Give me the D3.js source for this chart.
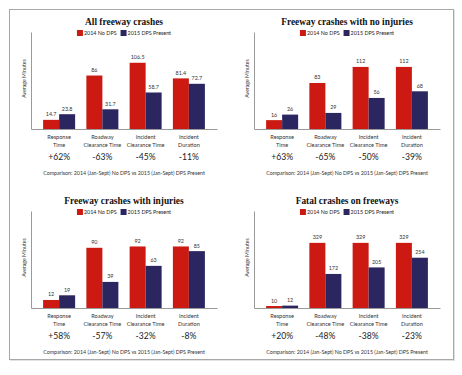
<!DOCTYPE html>
<html>
<head>
<meta charset="utf-8">
<script src="https://cdn.jsdelivr.net/npm/d3@7"></script>
<style>
  body { margin: 0; background: #fff; }
  svg { display: block; }
  .sans { font-family: Lato, "Open Sans", sans-serif; }
  .serif { font-family: "Liberation Serif", "DejaVu Serif", serif; }
</style>
</head>
<body>
<svg id="chart"></svg>
<script>
(() => {
  const width = 462, height = 375;

  const categories = ["Response Time", "Roadway Clearance Time", "Incident Clearance Time", "Incident Duration"];
  const categoryLines = [["Response", "Time"], ["Roadway", "Clearance Time"], ["Incident", "Clearance Time"], ["Incident", "Duration"]];
  const seriesNames = ["2014 No DPS", "2015 DPS Present"];
  const titles = ["All freeway crashes", "Freeway crashes with no injuries", "Freeway crashes with injuries", "Fatal crashes on freeways"];
  const values2014 = [
    [14.7, 86, 106.5, 81.4],
    [16, 83, 112, 112],
    [12, 90, 92, 92],
    [10, 329, 329, 329]
  ];
  const values2015 = [
    [23.8, 31.7, 58.7, 72.7],
    [26, 29, 56, 68],
    [19, 39, 63, 85],
    [12, 172, 205, 254]
  ];
  const changes = [
    ["+62%", "-63%", "-45%", "-11%"],
    ["+63%", "-65%", "-50%", "-39%"],
    ["+58%", "-57%", "-32%", "-8%"],
    ["+20%", "-48%", "-38%", "-23%"]
  ];
  const axisMax = [156, 175, 145, 490];
  const comparison = "Comparison: 2014 (Jan-Sept) No DPS vs 2015 (Jan-Sept) DPS Present";

  const colors = ["#cc1a12", "#2b2660"];

  const svg = d3.select("#chart").attr("width", width).attr("height", height);

  // outer frame with a faint shadow
  svg.append("rect").attr("x", 10.5).attr("y", 10.5).attr("width", 444).attr("height", 350)
    .attr("fill", "none").attr("stroke", "#e2e2e2");
  svg.append("rect").attr("x", 9.5).attr("y", 9.5).attr("width", 444).attr("height", 350)
    .attr("fill", "#fff").attr("stroke", "#a8a8a8");

  const panelW = 186, panelH = 97;

  titles.forEach((title, p) => {
    const left = p % 2 === 0 ? 31 : 254;
    const top = p < 2 ? 32 : 211;
    const g = svg.append("g").attr("class", "sans").attr("transform", `translate(${left},${top})`);
    const cx = panelW / 2;

    const x0 = d3.scaleBand().domain(categories).range([0, panelW]).paddingInner(0.26).paddingOuter(0.28);
    const x1 = d3.scaleBand().domain(seriesNames).range([0, x0.bandwidth()]);
    const y = d3.scaleLinear().domain([0, axisMax[p]]).range([panelH, 0]);

    // title
    g.append("text").attr("class", "serif").attr("x", cx).attr("y", -7)
      .attr("text-anchor", "middle")
      .attr("font-weight", "bold").attr("font-size", 9.4).attr("fill", "#111")
      .text(title);

    // legend
    const legend = g.append("g");
    let lx = 0;
    seriesNames.forEach((name, i) => {
      const it = legend.append("g");
      it.append("rect").attr("x", 0).attr("y", -3).attr("width", 6).attr("height", 6).attr("fill", colors[i]);
      const t = it.append("text").attr("x", 7).attr("y", 2.1)
        .attr("font-size", 5.4).attr("fill", "#222").text(name);
      const w = 7 + t.node().getComputedTextLength();
      it.attr("transform", `translate(${lx},0)`);
      lx += w + 4;
    });
    legend.attr("transform", `translate(${cx - (lx - 4) / 2},1)`);

    // y axis (no ticks) and label
    g.append("g").call(d3.axisLeft(y).tickValues([]).tickSizeOuter(0))
      .select(".domain").attr("stroke", "#9a9a9a");
    g.append("text")
      .attr("transform", `translate(-5,${panelH / 2 - 2}) rotate(-90)`)
      .attr("text-anchor", "middle")
      .attr("font-size", 5.2).attr("fill", "#333")
      .text("Average Minutes");

    // bars
    const groups = g.selectAll(".grp")
      .data(categories.map((c, i) => ({ c, vals: [values2014[p][i], values2015[p][i]] })))
      .join("g").attr("class", "grp")
      .attr("transform", d => `translate(${x0(d.c)},0)`);

    groups.selectAll("rect")
      .data(d => d.vals.map((v, i) => ({ key: seriesNames[i], v, i })))
      .join("rect")
      .attr("x", d => x1(d.key))
      .attr("y", d => y(d.v))
      .attr("width", x1.bandwidth())
      .attr("height", d => panelH - y(d.v))
      .attr("fill", d => colors[d.i]);

    groups.selectAll(".val")
      .data(d => d.vals.map((v, i) => ({ key: seriesNames[i], v })))
      .join("text").attr("class", "val")
      .attr("x", d => x1(d.key) + x1.bandwidth() / 2)
      .attr("y", d => y(d.v) - 3.5)
      .attr("text-anchor", "middle")
      .attr("font-size", 5.4).attr("fill", "#333")
      .text(d => d.v);

    // x axis
    const xAxis = g.append("g").attr("transform", `translate(0,${panelH})`)
      .call(d3.axisBottom(x0).tickSize(0).tickSizeOuter(0).tickFormat(""));
    xAxis.select(".domain").attr("stroke", "#9a9a9a");
    xAxis.attr("font-family", null);

    xAxis.selectAll(".tick").each(function(d, i) {
      const t = d3.select(this).append("text")
        .attr("text-anchor", "middle").attr("fill", "#333")
        .attr("font-size", 5.6);
      categoryLines[i].forEach((line, k) => {
        t.append("tspan").attr("x", 0).attr("y", 10 + k * 7.5).text(line);
      });
      d3.select(this).append("text")
        .attr("text-anchor", "middle").attr("y", 30.5)
        .attr("fill", "#222").attr("font-size", 8.6)
        .text(changes[p][i]);
    });

    g.append("text").attr("x", cx).attr("y", panelH + 45.5)
      .attr("text-anchor", "middle")
      .attr("font-size", 5.3).attr("fill", "#333")
      .text(comparison);
  });
})();
</script>
</body>
</html>
